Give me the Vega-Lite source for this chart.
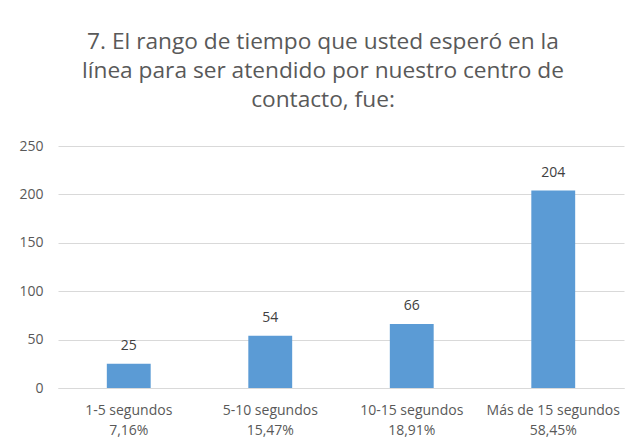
{
  "$schema": "https://vega.github.io/schema/vega-lite/v6.json",
  "width": 566,
  "height": 242,
  "padding": {"left": 18, "top": 31, "right": 13, "bottom": 8},
  "background": "white",
  "title": {
    "text": ["7. El rango de tiempo que usted esperó en la", "línea para ser atendido por nuestro  centro de", "contacto, fue:"],
    "fontSize": 22.7,
    "font": "Open Sans",
    "fontWeight": "normal",
    "color": "#595959",
    "lineHeight": 29,
    "anchor": "middle",
    "dx": -18,
    "offset": 27
  },
  "data": {
    "values": [
      {"cat": "1-5 segundos|7,16%", "n": 25},
      {"cat": "5-10 segundos|15,47%", "n": 54},
      {"cat": "10-15 segundos|18,91%", "n": 66},
      {"cat": "Más de 15 segundos|58,45%", "n": 204}
    ]
  },
  "encoding": {
    "x": {
      "field": "cat", "type": "nominal", "sort": null,
      "scale": {"paddingInner": 0.69, "paddingOuter": 0.345},
      "axis": {
        "title": null, "labelAngle": 0, "labelExpr": "split(datum.label, '|')",
        "labelFont": "Open Sans", "labelFontSize": 14, "labelColor": "#595959",
        "labelLineHeight": 20, "labelPadding": 15,
        "ticks": false, "domainColor": "#d9d9d9", "domainWidth": 1
      }
    },
    "y": {
      "field": "n", "type": "quantitative",
      "scale": {"domain": [0, 250]},
      "axis": {
        "title": null, "values": [0, 50, 100, 150, 200, 250],
        "labelFont": "Open Sans", "labelFontSize": 14, "labelColor": "#595959",
        "ticks": false, "domain": false, "gridColor": "#d9d9d9", "labelPadding": 15
      }
    }
  },
  "layer": [
    {"mark": {"type": "bar", "color": "#5B9BD5"}},
    {
      "mark": {"type": "text", "dy": -18, "font": "Open Sans", "fontSize": 14, "color": "#404040"},
      "encoding": {"text": {"field": "n", "type": "quantitative"}}
    }
  ],
  "config": {"view": {"stroke": null}}
}
